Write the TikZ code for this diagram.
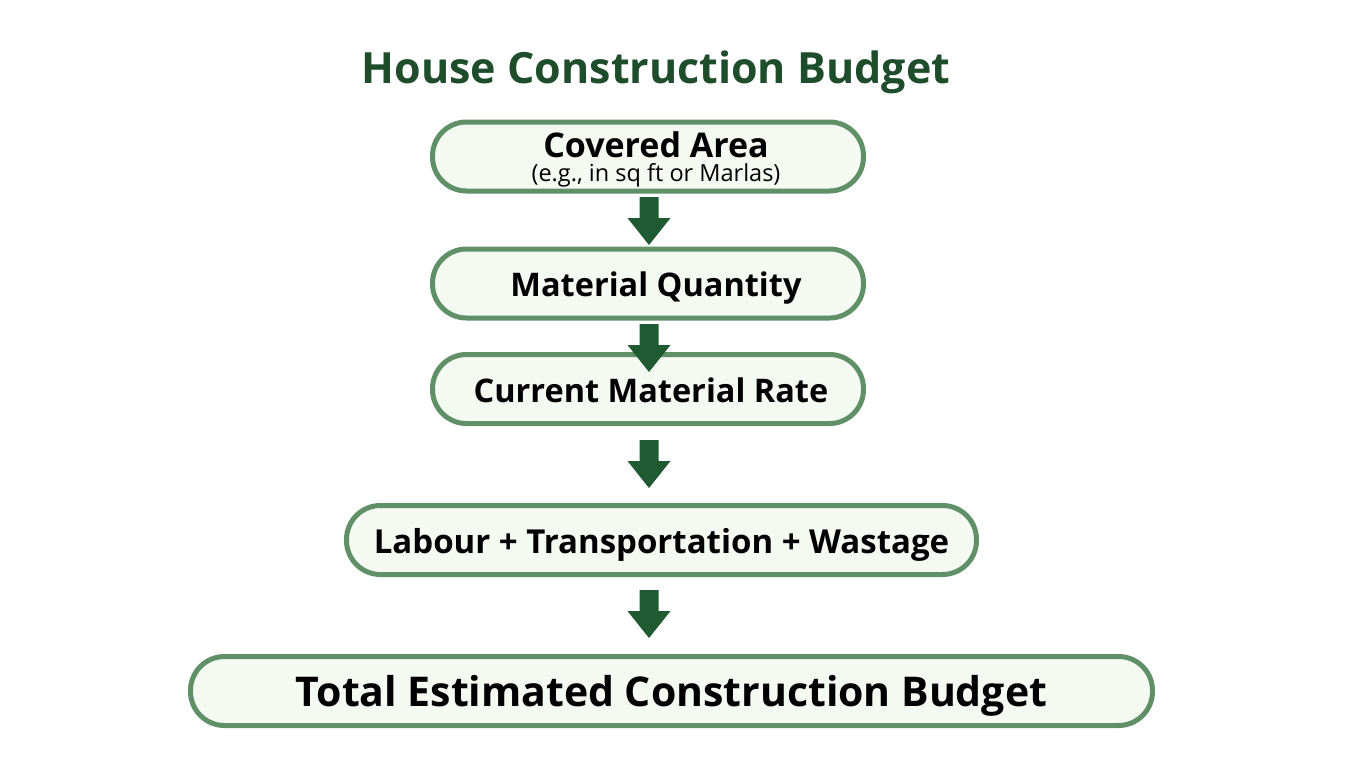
\documentclass[tikz,border=0pt]{standalone}
\usepackage{fontspec}
\setmainfont{Open Sans}
\usetikzlibrary{calc}
\definecolor{boxline}{HTML}{5F9068}
\definecolor{boxfill}{HTML}{F4F9F2}
\definecolor{arrowgreen}{HTML}{1F5A33}
\definecolor{titlegreen}{HTML}{1E4D2B}
\tikzset{
  stage/.style={draw=boxline, fill=boxfill, line width=5pt, rounded corners=34pt,
    minimum height=69pt, inner sep=0pt, align=center, text height=28pt, text depth=2pt,
    font=\bfseries\fontsize{32.5}{36}\selectfont},
}
\newcommand{\blockarrow}[2]{%
  \fill[arrowgreen] ($(#1)+(-9.5,0)$) -- ($(#1)+(9.5,0)$) -- ($(#1)+(9.5,21)$) -- ($(#1)+(21.5,21)$)
    -- ($(#1)+(0,#2)$) -- ($(#1)+(-21.5,21)$) -- ($(#1)+(-9.5,21)$) -- cycle;}
\begin{document}
\begin{tikzpicture}[x=1pt,y=-1pt]
\useasboundingbox (0,0) rectangle (1365,768);
\node[font=\bfseries\fontsize{43}{46}\selectfont, text=titlegreen, anchor=base] (title) at (656,83) {House Construction Budget};
\node[stage, minimum width=431pt] (b1) at (648,156.5) {};
\node[font=\bfseries\fontsize{34}{36}\selectfont, anchor=base] (b1t) at (656,157) {Covered Area};
\node[font=\fontsize{23.5}{26}\selectfont, anchor=base] (b1s) at (656,181) {(e.g., in sq ft or Marlas)};
\node[stage, minimum width=431pt] (b2) at (648,283.5) {\hspace*{16pt}Material Quantity};
\node[stage, minimum width=431pt] (b3) at (648,389) {\hspace*{6pt}Current Material Rate};
\node[stage, minimum width=630pt, font=\bfseries\fontsize{33}{36}\selectfont] (b4) at (661.5,540) {Labour + Transportation + Wastage};
\node[stage, minimum width=962pt, text height=32pt, font=\bfseries\fontsize{41}{44}\selectfont] (b5) at (671.5,691) {Total Estimated Construction Budget};
\coordinate (a1) at ($(b1.south)+(1,3.5)$);
\coordinate (a2) at ($(b2.south)+(1,3.5)$);
\coordinate (a3) at ($(b3.south)+(1,14)$);
\coordinate (a4) at ($(b4.south)+(-12.5,13)$);
\blockarrow{a1}{48}
\blockarrow{a2}{48}
\blockarrow{a3}{48}
\blockarrow{a4}{48}
\end{tikzpicture}
\end{document}
